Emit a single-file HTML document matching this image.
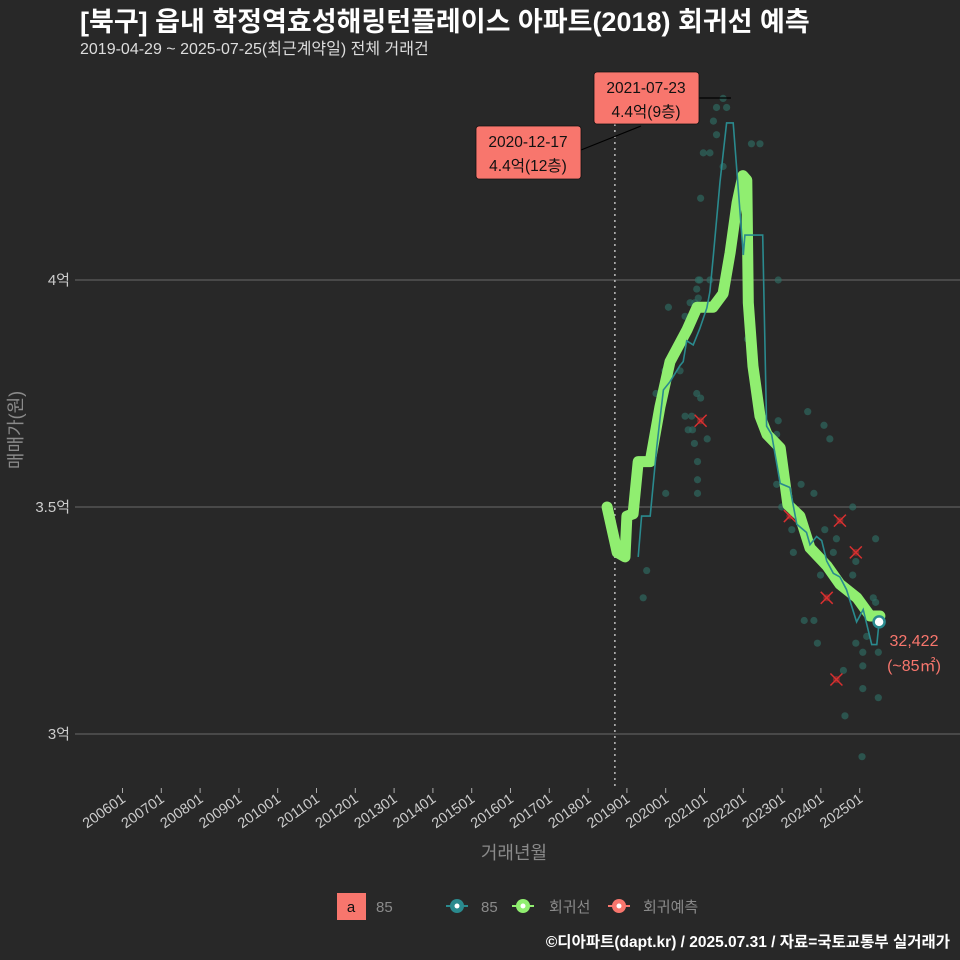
<!DOCTYPE html>
<html><head><meta charset="utf-8">
<style>
html,body{margin:0;padding:0;background:#282828;}
svg{display:block;font-family:"Liberation Sans","Noto Sans CJK KR",sans-serif;}
</style></head>
<body>
<svg id="chart" width="960" height="960" viewBox="0 0 960 960" xmlns="http://www.w3.org/2000/svg">
<rect width="960" height="960" fill="#282828"/>
<text x="80" y="31" fill="#ffffff" font-size="27" font-weight="bold">[북구] 읍내 학정역효성해링턴플레이스 아파트(2018) 회귀선 예측</text>
<text x="80" y="54" fill="#dddddd" font-size="16">2019-04-29 ~ 2025-07-25(최근계약일) 전체 거래건</text>
<g id="grid"></g>
<g id="xaxis"></g>
<g id="marks"></g>
<text x="22" y="430" fill="#8a8a8a" font-size="18" text-anchor="middle" transform="rotate(-90 22 430)">매매가(원)</text>
<text x="514" y="859" fill="#8a8a8a" font-size="18" text-anchor="middle">거래년월</text>
<g>
<line x1="581" y1="150" x2="641" y2="126" stroke="#000" stroke-width="1.2"/>
<rect x="476" y="126" width="105" height="53" rx="3" fill="#f8766d" stroke="#111" stroke-width="0.8"/>
<text x="528" y="147" font-size="15.5" text-anchor="middle" fill="#111">2020-12-17</text>
<text x="528" y="171" font-size="15.5" text-anchor="middle" fill="#111">4.4억(12층)</text>
</g>
<g>
<line x1="699" y1="98" x2="731" y2="98" stroke="#000" stroke-width="1.2"/>
<rect x="594" y="72" width="105" height="52" rx="3" fill="#f8766d" stroke="#111" stroke-width="0.8"/>
<text x="646" y="93" font-size="15.5" text-anchor="middle" fill="#111">2021-07-23</text>
<text x="646" y="117" font-size="15.5" text-anchor="middle" fill="#111">4.4억(9층)</text>
</g>
<text x="914" y="646" fill="#f8766d" font-size="16" text-anchor="middle">32,422</text>
<text x="914" y="671" fill="#f8766d" font-size="16" text-anchor="middle">(~85㎡)</text>
<g>
<rect x="337" y="893" width="29" height="27" fill="#f8766d"/>
<text x="351" y="912" font-size="15" fill="#111" text-anchor="middle">a</text>
<text x="376" y="912" font-size="15" fill="#8a8a8a">85</text>
<g><line x1="446" y1="906" x2="468" y2="906" stroke="#2a8a8e" stroke-width="2"/><circle cx="457" cy="906" r="7" fill="#2a8a8e"/><circle cx="457" cy="906" r="2.5" fill="#fff"/><text x="481" y="912" font-size="15" fill="#8a8a8a">85</text></g>
<g><line x1="512" y1="906" x2="534" y2="906" stroke="#90ee70" stroke-width="2"/><circle cx="523" cy="906" r="7" fill="#90ee70"/><circle cx="523" cy="906" r="2.5" fill="#fff"/><text x="549" y="912" font-size="15" fill="#8a8a8a">회귀선</text></g>
<g><line x1="608" y1="906" x2="630" y2="906" stroke="#f8766d" stroke-width="2"/><circle cx="619" cy="906" r="7" fill="#f8766d"/><circle cx="619" cy="906" r="2.5" fill="#fff"/><text x="643" y="912" font-size="15" fill="#8a8a8a">회귀예측</text></g>
</g>
<text x="950" y="947" fill="#ffffff" font-size="15.5" font-weight="bold" text-anchor="end">©디아파트(dapt.kr) / 2025.07.31 / 자료=국토교통부 실거래가</text>
</svg>
<script>
const yTicks=[3,3.5,4];
const yTickLabels=["3억","3.5억","4억"];
const xTickYears=[2006,2007,2008,2009,2010,2011,2012,2013,2014,2015,2016,2017,2018,2019,2020,2021,2022,2023,2024,2025];
const xTickLabels=["200601","200701","200801","200901","201001","201101","201201","201301","201401","201501","201601","201701","201801","201901","202001","202101","202201","202301","202401","202501"];
const markerDate=2018.69;
const regT=[2018.49,2018.75,2018.95,2019.00,2019.16,2019.29,2019.60,2019.85,2020.11,2020.55,2020.81,2021.22,2021.48,2021.66,2021.84,2021.99,2022.09,2022.13,2022.25,2022.43,2022.61,2022.95,2023.15,2023.46,2023.72,2024.16,2024.49,2024.93,2025.27,2025.52];
const regV=[3.50,3.40,3.39,3.48,3.485,3.60,3.60,3.72,3.82,3.89,3.94,3.94,3.97,4.06,4.17,4.23,4.22,3.95,3.81,3.70,3.66,3.63,3.505,3.48,3.41,3.37,3.33,3.30,3.26,3.26];
const avgT=[2019.29,2019.38,2019.60,2019.77,2019.94,2020.11,2020.37,2020.45,2020.54,2020.71,2020.88,2021.06,2021.14,2021.23,2021.40,2021.57,2021.74,2022.00,2022.04,2022.50,2022.60,2022.73,2022.95,2023.20,2023.38,2023.63,2023.72,2023.89,2024.02,2024.15,2024.32,2024.49,2024.66,2024.92,2025.09,2025.31,2025.44,2025.50];
const avgV=[3.39,3.48,3.48,3.633,3.758,3.776,3.812,3.82,3.866,3.857,3.893,3.938,3.974,4.055,4.216,4.346,4.346,4.055,4.099,4.099,3.678,3.66,3.552,3.543,3.462,3.444,3.417,3.435,3.426,3.381,3.354,3.346,3.318,3.247,3.274,3.197,3.197,3.247];
const dealT=[2021.48,2021.31,2021.57,2021.23,2021.31,2022.21,2022.43,2020.97,2021.14,2021.48,2020.90,2020.84,2020.88,2021.14,2022.90,2020.80,2020.84,2020.07,2020.63,2020.75,2020.50,2022.11,2019.98,2020.37,2019.75,2020.80,2020.90,2020.50,2020.67,2020.58,2020.69,2020.74,2021.07,2020.82,2020.82,2020.82,2020.00,2023.66,2024.08,2024.23,2022.90,2022.86,2023.49,2023.82,2022.86,2024.82,2022.99,2024.10,2024.40,2023.25,2023.29,2024.32,2024.90,2025.41,2023.99,2024.82,2025.35,2025.41,2023.57,2023.82,2023.91,2025.18,2024.90,2025.08,2025.48,2025.08,2024.58,2025.08,2025.48,2024.62,2019.51,2019.42,2025.06];
const dealV=[4.40,4.38,4.38,4.35,4.32,4.30,4.30,4.28,4.28,4.25,4.18,4.00,4.00,4.00,4.00,3.98,3.96,3.94,3.95,3.95,3.92,3.87,3.80,3.80,3.75,3.75,3.74,3.70,3.70,3.67,3.67,3.64,3.65,3.60,3.56,3.53,3.53,3.71,3.68,3.65,3.69,3.66,3.55,3.53,3.55,3.50,3.50,3.45,3.43,3.45,3.40,3.40,3.38,3.43,3.35,3.35,3.30,3.29,3.25,3.25,3.20,3.215,3.20,3.18,3.18,3.15,3.14,3.10,3.08,3.04,3.36,3.30,2.95];
const predT=[2020.90,2023.20,2024.49,2024.90,2024.15,2024.40];
const predV=[3.69,3.48,3.47,3.40,3.30,3.12];

const NS="http://www.w3.org/2000/svg";
function X(t){return 122.5+(t-2006)*38.8;}
function Y(v){return 280+(4-v)*454;}
function mk(tag,attrs,parent){const e=document.createElementNS(NS,tag);for(const k in attrs)e.setAttribute(k,attrs[k]);parent.appendChild(e);return e;}
const grid=document.getElementById('grid'),xa=document.getElementById('xaxis'),marks=document.getElementById('marks');
yTicks.forEach((v,i)=>{
  const l=mk('line',{x1:75,x2:960,y1:Y(v),y2:Y(v),stroke:'#6a6a6a','stroke-width':1},grid);
  
  
  const t=mk('text',{x:70,y:Y(v)+5,fill:'#cccccc','font-size':15,'text-anchor':'end'},grid);
  t.textContent=yTickLabels[i];
  
  
});
xTickYears.forEach((yr,i)=>{
  const x=X(yr);
  const tk=mk('line',{x1:x,x2:x,y1:788,y2:793,stroke:'#aaaaaa','stroke-width':1},xa);
  
  
  const t=mk('text',{x:x+4,y:801,fill:'#cccccc','font-size':14.5,'text-anchor':'end',transform:`rotate(-35 ${x+4} 801)`},xa);
  t.textContent=xTickLabels[i];
  
  
});
const ml=mk('line',{x1:X(markerDate),x2:X(markerDate),y1:100,y2:790,stroke:'#bbbbbb','stroke-width':1.5,'stroke-dasharray':'2 4'},grid);


dealT.forEach((t,i)=>{
  const c=mk('circle',{cx:X(t),cy:Y(dealV[i]),r:3.6,fill:'#2e6b62','fill-opacity':0.65},marks);
  
  
});
predT.forEach((t,i)=>{
  const x=X(t),y=Y(predV[i]);
  const g=mk('g',{},marks);
  
  
  mk('circle',{cx:x,cy:y,r:3.5,fill:'#7a2a2a'},g);
  mk('path',{d:`M${x-6},${y-6}L${x+6},${y+6}M${x-6},${y+6}L${x+6},${y-6}`,stroke:'#d83030','stroke-width':1.5},g);
});
const rp=mk('path',{d:regT.map((t,i)=>(i?'L':'M')+X(t).toFixed(1)+','+Y(regV[i]).toFixed(1)).join(''),fill:'none',stroke:'#90ee70','stroke-width':11,'stroke-linejoin':'round','stroke-linecap':'round'},marks);


let d='';
avgT.forEach((t,i)=>{d+=(i?'L':'M')+X(t).toFixed(1)+','+Y(avgV[i]).toFixed(1);});
const ap=mk('path',{d:d,fill:'none',stroke:'#2a8a8e','stroke-width':1.6},marks);


const li=avgT.length-1;
const ep=mk('circle',{cx:X(avgT[li]),cy:Y(avgV[li]),r:5.5,fill:'#ffffff',stroke:'#2a8a8e','stroke-width':2.5},marks);


</script>
</body></html>
